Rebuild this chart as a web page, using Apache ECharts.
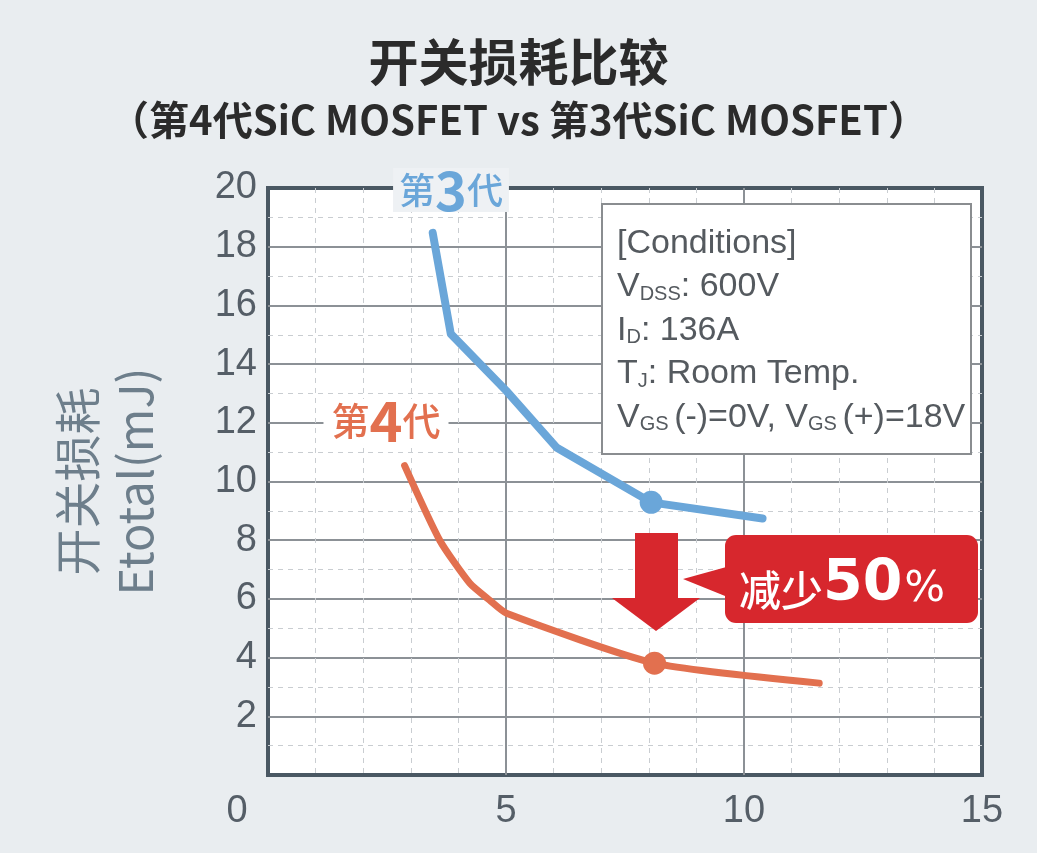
<!DOCTYPE html>
<html>
<head>
<meta charset="utf-8">
<script src="https://cdn.jsdelivr.net/npm/echarts@6/dist/echarts.min.js"></script>
<style>
html,body{margin:0;padding:0;background:#e9edf0;}
#chart{width:1037px;height:853px;}
</style>
</head>
<body>
<div id="chart"></div>
<script>
// ---- data ----
const titleText = '开关损耗比较';
const subtitleText = '（第4代SiC MOSFET vs 第3代SiC MOSFET）';
const yAxisName = '开关损耗\nEtotal(mJ)';
const xTicks = [0, 5, 10, 15];
const yTicks = [0, 2, 4, 6, 8, 10, 12, 14, 16, 18, 20];
const gen3Name = '第3代';
const gen4Name = '第4代';
const gen3X = [3.46, 3.84, 5.0, 6.06, 8.05, 10.39];
const gen3Y = [18.47, 15.03, 13.1, 11.16, 9.29, 8.74];
const gen4X = [2.87, 3.61, 4.24, 4.66, 5.01, 8.12, 11.58];
const gen4Y = [10.54, 7.99, 6.53, 5.95, 5.51, 3.81, 3.13];
const gen3MarkIdx = 4;
const gen4MarkIdx = 5;
const reductionText = ['减少', '50', '%'];
const conditions = [
  ['[Conditions]'],
  ['V', 'DSS', ': 600V'],
  ['I', 'D', ': 136A'],
  ['T', 'J', ': Room Temp.'],
  ['V', 'GS ', '(-)=0V, V', 'GS ', '(+)=18V']
];

// ---- build ----
const zip = (xs, ys) => xs.map((x, i) => [x, ys[i]]);
const gen3 = zip(gen3X, gen3Y);
const gen4 = zip(gen4X, gen4Y);

const BLUE = '#6aa6d9', ORANGE = '#e2704f', RED = '#d7272d';
const CJK = '"Noto Sans CJK SC", "Noto Sans", sans-serif';
const ARIAL = '"Liberation Sans", Arial, sans-serif';
const DEJA = '"DejaVu Sans", sans-serif';

const condText = conditions.map(parts =>
  parts.map((p, i) => (i % 2 === 1 ? '{s|' + p + '}' : '{n|' + p + '}')).join('')
).join('\n');

const chart = echarts.init(document.getElementById('chart'));
chart.setOption({
  backgroundColor: '#e9edf0',
  animation: false,
  title: {
    text: titleText,
    subtext: subtitleText,
    left: 'center',
    top: 32,
    itemGap: 13,
    textStyle: { fontSize: 50, fontWeight: 'bold', color: '#2b2b2b', fontFamily: CJK },
    subtextStyle: { fontSize: 40, fontWeight: 'bold', color: '#2b2b2b', fontFamily: CJK }
  },
  grid: {
    left: 268, right: 55, top: 188, bottom: 78,
    show: true, backgroundColor: '#ffffff', borderColor: '#4a5863', borderWidth: 4
  },
  xAxis: {
    type: 'value', min: xTicks[0], max: xTicks[xTicks.length - 1], interval: xTicks[1] - xTicks[0],
    axisLine: { show: false },
    axisTick: { show: false },
    axisLabel: {
      margin: 18, fontSize: 38, color: '#555e67', fontFamily: ARIAL,
      formatter: v => (v === 0 ? '{z|0}' : String(v)),
      rich: { z: { fontSize: 38, color: '#555e67', fontFamily: ARIAL, padding: [0, 62, 0, 0] } }
    },
    splitLine: { show: true, showMinLine: false, showMaxLine: false, lineStyle: { color: '#8c9196', width: 2 } },
    minorTick: { show: false, splitNumber: 5 },
    minorSplitLine: { show: true, lineStyle: { color: '#c9cdd1', width: 1, type: [5, 5] } }
  },
  yAxis: {
    type: 'value', min: yTicks[0], max: yTicks[yTicks.length - 1], interval: yTicks[1] - yTicks[0],
    name: yAxisName,
    nameLocation: 'middle',
    nameRotate: 90,
    nameGap: 104,
    nameTextStyle: { fontSize: 47, color: '#6d7e8b', fontFamily: CJK, lineHeight: 58 },
    axisLine: { show: false },
    axisTick: { show: false },
    axisLabel: {
      margin: 11, fontSize: 38, color: '#555e67', fontFamily: ARIAL,
      formatter: v => (v === 0 ? '' : String(v))
    },
    splitLine: { show: true, showMinLine: false, showMaxLine: false, lineStyle: { color: '#8c9196', width: 2 } },
    minorTick: { show: false, splitNumber: 2 },
    minorSplitLine: { show: true, lineStyle: { color: '#c9cdd1', width: 1, type: [5, 5] } }
  },
  series: [
    {
      name: gen3Name, type: 'line', data: gen3, symbol: 'none', z: 5,
      lineStyle: { color: BLUE, width: 8, cap: 'round', join: 'round' }
    },
    {
      name: gen4Name, type: 'line', data: gen4, symbol: 'none', z: 5,
      smooth: 0.2,
      lineStyle: { color: ORANGE, width: 7, cap: 'round', join: 'round' }
    },
    {
      type: 'scatter', z: 6, symbolSize: 23,
      data: [
        { value: gen3[gen3MarkIdx], itemStyle: { color: BLUE, opacity: 1 } },
        { value: gen4[gen4MarkIdx], itemStyle: { color: ORANGE, opacity: 1 } }
      ]
    }
  ],
  graphic: [
    // conditions box
    {
      type: 'rect', z: 20,
      shape: { x: 602, y: 204, width: 369, height: 250 },
      style: { fill: '#ffffff', stroke: '#8a8d90', lineWidth: 2 }
    },
    {
      type: 'text', z: 21, x: 617, y: 217,
      style: {
        text: condText,
        fill: '#555a5f',
        rich: {
          n: { fontSize: 34, fontFamily: ARIAL, fill: '#555a5f', lineHeight: 43.5, verticalAlign: 'bottom' },
          s: { fontSize: 20, fontFamily: ARIAL, fill: '#555a5f', lineHeight: 43.5, verticalAlign: 'bottom' }
        }
      }
    },
    // down arrow
    {
      type: 'polygon', z: 20,
      shape: { points: [[635, 533], [678, 533], [678, 598], [700, 598], [656, 631], [612, 598], [635, 598]] },
      style: { fill: RED }
    },
    // callout
    {
      type: 'polygon', z: 20,
      shape: { points: [[683, 579], [730, 566], [730, 598]] },
      style: { fill: RED }
    },
    {
      type: 'rect', z: 20,
      shape: { x: 725, y: 535, width: 253, height: 88, r: 11 },
      style: { fill: RED }
    },
    {
      type: 'text', z: 21, x: 739, y: 614,
      style: {
        text: '{a|' + reductionText[0] + '}{b|' + reductionText[1] + '}{c|' + reductionText[2] + '}',
        verticalAlign: 'bottom',
        rich: {
          a: { fontSize: 42, fontFamily: CJK, fontWeight: 500, fill: '#ffffff', verticalAlign: 'bottom', lineHeight: 46, padding: [0, 0, 3, 0] },
          b: { fontSize: 57, fontFamily: DEJA, fontWeight: 'bold', fill: '#ffffff', verticalAlign: 'bottom', lineHeight: 57 },
          c: { fontSize: 43, fontFamily: DEJA, fill: '#ffffff', verticalAlign: 'bottom', lineHeight: 43, padding: [0, 0, 3, 2] }
        }
      }
    },
    // generation labels
    {
      type: 'text', z: 22, x: 451, y: 190,
      style: {
        text: '{a|第}{b|3}{a|代}',
        align: 'center', verticalAlign: 'middle',
        backgroundColor: '#eef1f4', padding: [0, 6, 0, 6],
        rich: {
          a: { fontSize: 36, fontFamily: CJK, fontWeight: 500, fill: BLUE, verticalAlign: 'middle', lineHeight: 44 },
          b: { fontSize: 54, fontFamily: CJK, fontWeight: 'bold', fill: BLUE, verticalAlign: 'middle', lineHeight: 44 }
        }
      }
    },
    {
      type: 'text', z: 22, x: 386, y: 421,
      style: {
        text: '{a|第}{b|4}{a|代}',
        align: 'center', verticalAlign: 'middle',
        backgroundColor: '#ffffff', padding: [0, 8, 0, 8],
        rich: {
          a: { fontSize: 38, fontFamily: CJK, fontWeight: 500, fill: ORANGE, verticalAlign: 'middle', lineHeight: 44 },
          b: { fontSize: 56, fontFamily: CJK, fontWeight: 'bold', fill: ORANGE, verticalAlign: 'middle', lineHeight: 44 }
        }
      }
    }
  ]
});
</script>
</body>
</html>
